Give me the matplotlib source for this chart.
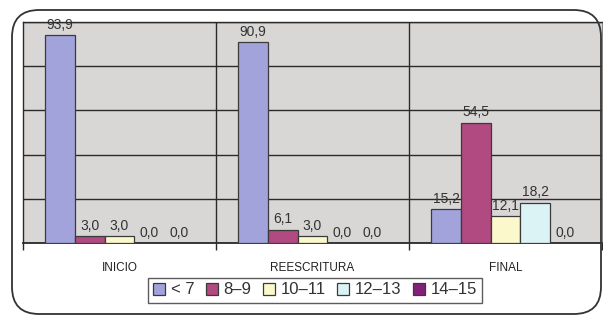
import numpy as np
import matplotlib.pyplot as plt
from matplotlib.patches import FancyBboxPatch

plt.rcParams["font.family"] = ["Liberation Sans", "DejaVu Sans"]

groups = ["INICIO", "REESCRITURA", "FINAL"]
series = ["< 7", "8\u20139", "10\u201311", "12\u201313", "14\u201315"]
values = [
    [93.9, 90.9, 15.2],
    [3.0, 6.1, 54.5],
    [3.0, 3.0, 12.1],
    [0.0, 0.0, 18.2],
    [0.0, 0.0, 0.0],
]
colors = ["#a3a3dc", "#b04a80", "#fbf8cc", "#dcf3f6", "#84207a"]

fig = plt.figure(figsize=(6.03, 3.15), dpi=100)

# rounded frame around the whole chart
frame = FancyBboxPatch((12 / 603, 1 / 315), 589 / 603, 304 / 315,
                       boxstyle="round,pad=0,rounding_size=0.045",
                       transform=fig.transFigure, fill=False,
                       edgecolor="#333333", linewidth=1.3,
                       mutation_aspect=603 / 315)
fig.patches.append(frame)

ax = fig.add_axes([23 / 603, 1 - 243 / 315, 579 / 603, 221 / 315])
ax.set_facecolor("#d9d7d5")

width = 1 / 6.5
x = np.arange(len(groups))
for i, (name, vals, c) in enumerate(zip(series, values, colors)):
    pos = x - 2.5 * width + (i + 0.5) * width
    ax.bar(pos, vals, width, color=c, edgecolor="#3a3a3a", linewidth=0.9,
           label=name, zorder=3)
    for p, v in zip(pos, vals):
        ax.text(p, v + 1.5, f"{v:.1f}".replace(".", ","), ha="center",
                va="bottom", fontsize=10, color="#333333", zorder=4)

ax.set_xlim(-0.5, len(groups) - 0.5)
ax.set_ylim(0, 100)
ax.set_yticks(np.arange(0, 101, 20))
ax.yaxis.grid(True, color="#2a2a2a", linewidth=1)
ax.tick_params(axis="y", left=False, labelleft=False)
for b in np.arange(0.5, len(groups) - 0.5, 1):
    ax.axvline(b, color="#2a2a2a", linewidth=1, zorder=1)

ax.set_xticks(x)
ax.set_xticklabels(groups, fontsize=8.5, color="#222222")
ax.tick_params(axis="x", length=0, pad=14)
ax.set_xticks(np.arange(-0.5, len(groups), 1), minor=True)
ax.tick_params(axis="x", which="minor", length=5, width=1, color="#2a2a2a")

for s in ["left", "top", "bottom"]:
    ax.spines[s].set_color("#2a2a2a")
    ax.spines[s].set_linewidth(1)
ax.spines["right"].set_color("#888888")
ax.spines["bottom"].set_linewidth(1.3)

leg = fig.legend(loc="center", bbox_to_anchor=(315 / 603, 1 - 290 / 315),
                 ncol=5, fontsize=12, frameon=True, fancybox=False,
                 handlelength=0.7, handleheight=0.7, handletextpad=0.35,
                 columnspacing=0.7, borderpad=0.3, labelcolor="#333333")
leg.get_frame().set_edgecolor("#333333")
leg.get_frame().set_linewidth(1)

fig.savefig("out.png", dpi=100)
